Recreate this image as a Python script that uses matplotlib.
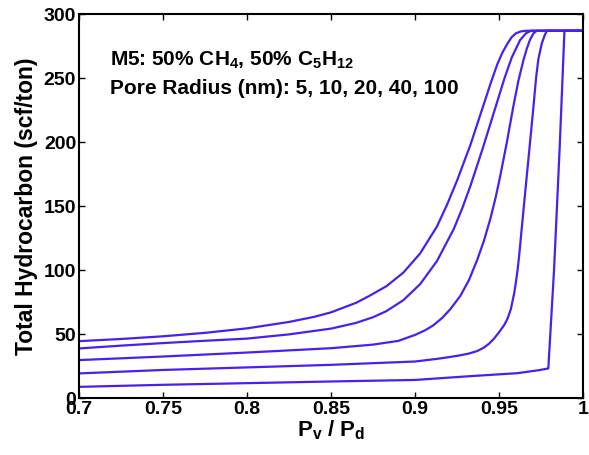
import numpy as np
import matplotlib
matplotlib.use("Agg")
import matplotlib.pyplot as plt

plt.rcParams['font.family'] = ['Liberation Sans', 'DejaVu Sans']
plt.rcParams['font.weight'] = 'bold'
plt.rcParams['mathtext.fontset'] = 'custom'
plt.rcParams['mathtext.rm'] = 'Liberation Sans:bold'
plt.rcParams['mathtext.bf'] = 'Liberation Sans:bold'
plt.rcParams['mathtext.default'] = 'bf'

# total hydrocarbon (scf/ton) vs Pv/Pd, one curve per pore radius
x_r5 = [0.70, 0.725, 0.75, 0.775, 0.80, 0.825, 0.84, 0.85, 0.865, 0.873, 0.883,
        0.893, 0.903, 0.913, 0.919, 0.925, 0.933, 0.941, 0.945, 0.949, 0.952,
        0.955, 0.9575, 0.960, 0.963, 0.966, 1.0]
y_r5 = [44.5, 46.2, 48.3, 51, 54.5, 59.5, 63.5, 67, 74.5, 80, 87.5,
        98, 113, 134, 151, 170, 198, 230, 246, 261, 270,
        277, 282, 285, 286.5, 287, 287]

x_r10 = [0.70, 0.725, 0.75, 0.775, 0.80, 0.825, 0.85, 0.865, 0.875, 0.883,
         0.893, 0.903, 0.913, 0.923, 0.928, 0.933, 0.940, 0.945, 0.949, 0.953,
         0.9575, 0.9625, 0.966, 0.969, 1.0]
y_r10 = [38.8, 41, 43, 44.8, 46.5, 49.8, 54.3, 58.8, 63.2, 68,
         76.5, 89, 107, 132, 148, 166, 194, 215, 232, 249,
         266, 279.7, 285, 287, 287]

x_r20 = [0.70, 0.75, 0.80, 0.85, 0.875, 0.89, 0.90, 0.906, 0.911, 0.916,
         0.921, 0.927, 0.932, 0.937, 0.941, 0.945, 0.948, 0.9506, 0.9545, 0.9585,
         0.9615, 0.9645, 0.9665, 0.9684, 0.9705, 0.9724, 1.0]
y_r20 = [29.7, 32.5, 35.6, 39, 41.8, 44.7, 49.4, 53, 57, 62.5,
         69.5, 80, 92, 108, 123, 141, 157, 173, 199, 228,
         248, 264, 273, 280, 285, 287, 287]

x_r40 = [0.70, 0.75, 0.80, 0.85, 0.90, 0.915, 0.925, 0.932, 0.937, 0.941,
         0.944, 0.947, 0.950, 0.953, 0.955, 0.957, 0.959, 0.960, 0.961, 0.962,
         0.9635, 0.966, 0.968, 0.9704, 0.972, 0.9734, 0.9754, 0.977, 0.9784, 1.0]
y_r40 = [19.3, 22, 24, 26, 28.6, 31, 33, 34.8, 36.8, 39.5,
         42.5, 46.5, 51.5, 57, 62, 69.5, 82, 90.5, 100, 112,
         133, 167, 194, 227, 250, 265, 277, 283, 287, 287]

x_r100 = [0.70, 0.75, 0.80, 0.85, 0.90, 0.931, 0.961, 0.974, 0.9793,
          0.9827, 0.986, 0.9889, 1.0]
y_r100 = [8.8, 10.4, 11.7, 13, 14.2, 17, 19.5, 21.9, 23.2,
          100, 194, 287, 287]

curves = [(x_r5, y_r5), (x_r10, y_r10), (x_r20, y_r20), (x_r40, y_r40), (x_r100, y_r100)]

xticks = [0.7, 0.75, 0.8, 0.85, 0.9, 0.95, 1.0]
xtick_labels = ['0.7', '0.75', '0.8', '0.85', '0.9', '0.95', '1']
yticks = [0, 50, 100, 150, 200, 250, 300]

line_color = '#4a1ff0'

fig = plt.figure(figsize=(5.89, 4.55), dpi=100)
ax = fig.add_axes([0.134, 0.125, 0.856, 0.844])

for xs, ys in curves:
    ax.plot(xs, ys, color=line_color, lw=1.6, solid_joinstyle='round')

ax.set_xlim(0.7, 1.0)
ax.set_ylim(0, 300)
ax.set_xticks(xticks)
ax.set_xticklabels(xtick_labels)
ax.set_yticks(yticks)
ax.tick_params(direction='in', top=True, right=True, length=4, width=1,
               labelsize=14, pad=2)
for lab in ax.get_xticklabels() + ax.get_yticklabels():
    lab.set_fontweight('bold')
for sp in ax.spines.values():
    sp.set_linewidth(1.5)

ax.set_xlabel(r'P$_\mathregular{v}$ / P$_\mathregular{d}$', fontsize=16,
              fontweight='bold', labelpad=0)
ax.set_ylabel('Total Hydrocarbon (scf/ton)', fontsize=16.5, fontweight='bold',
              labelpad=4)

ax.text(0.7185, 264, r'M5: 50% CH$_4$, 50% C$_5$H$_{12}$', fontsize=15,
        fontweight='bold', va='center', ha='left')
ax.text(0.7185, 242, 'Pore Radius (nm): 5, 10, 20, 40, 100', fontsize=15,
        fontweight='bold', va='center', ha='left')

fig.savefig('out.png', dpi=100)
